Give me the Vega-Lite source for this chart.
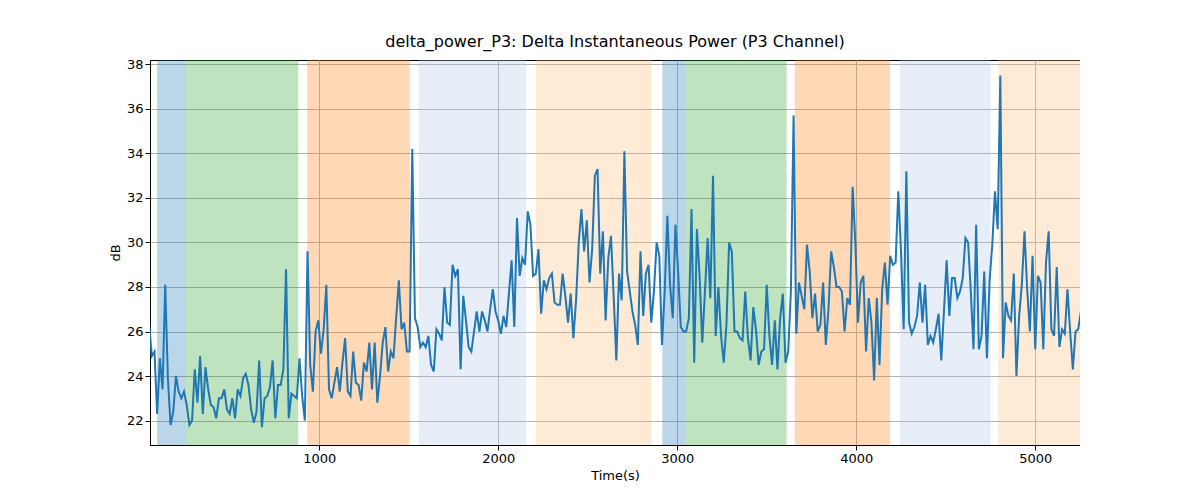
{
  "$schema": "https://vega.github.io/schema/vega-lite/v6.json",
  "width": 930,
  "height": 385,
  "padding": {"left": 109, "top": 34, "right": 0, "bottom": 0},
  "background": "white",
  "title": {"text": "delta_power_P3: Delta Instantaneous Power (P3 Channel)", "font": "DejaVu Sans", "fontSize": 16, "fontWeight": "normal", "color": "black", "offset": 8},
  "config": {
    "font": "DejaVu Sans",
    "view": {"stroke": "black", "strokeWidth": 1},
    "axis": {"labelFont": "DejaVu Sans", "titleFont": "DejaVu Sans", "labelFontSize": 13, "titleFontSize": 13, "titleFontWeight": "normal", "labelColor": "black", "titleColor": "black", "gridColor": "#b0b0b0", "gridWidth": 1, "domainColor": "black", "tickColor": "black", "tickSize": 5}
  },
  "datasets": {
    "bands": [
      {"start": 95, "end": 256, "phase": "a"},
      {"start": 256, "end": 883, "phase": "b"},
      {"start": 933, "end": 1506, "phase": "c"},
      {"start": 1556, "end": 2156, "phase": "d"},
      {"start": 2211, "end": 2856, "phase": "e"},
      {"start": 2917, "end": 3044, "phase": "a"},
      {"start": 3044, "end": 3611, "phase": "b"},
      {"start": 3656, "end": 4189, "phase": "c"},
      {"start": 4244, "end": 4750, "phase": "d"},
      {"start": 4794, "end": 5300, "phase": "e"}
    ],
    "series": [
      {"t":50,"v":26.4},{"t":65,"v":24.9},{"t":80,"v":25.1},{"t":95,"v":22.3},{"t":110,"v":24.8},{"t":125,"v":23.4},{"t":140,"v":28.1},{"t":155,"v":23.9},{"t":170,"v":21.8},{"t":185,"v":22.4},
      {"t":200,"v":24.0},{"t":215,"v":23.3},{"t":230,"v":23.0},{"t":245,"v":23.3},{"t":260,"v":22.7},{"t":275,"v":21.8},{"t":290,"v":22.0},{"t":305,"v":24.3},{"t":320,"v":22.8},{"t":335,"v":24.9},
      {"t":350,"v":22.3},{"t":365,"v":24.4},{"t":380,"v":23.4},{"t":395,"v":22.7},{"t":410,"v":22.6},{"t":425,"v":22.1},{"t":440,"v":23.0},{"t":455,"v":23.0},{"t":470,"v":23.4},{"t":485,"v":22.5},
      {"t":500,"v":22.3},{"t":515,"v":23.0},{"t":530,"v":22.1},{"t":545,"v":23.4},{"t":560,"v":23.1},{"t":575,"v":23.9},{"t":590,"v":24.1},{"t":605,"v":23.6},{"t":620,"v":22.5},{"t":635,"v":21.9},
      {"t":650,"v":22.4},{"t":665,"v":24.7},{"t":680,"v":21.7},{"t":695,"v":23.0},{"t":710,"v":23.1},{"t":725,"v":23.5},{"t":740,"v":24.7},{"t":755,"v":22.1},{"t":770,"v":23.6},{"t":785,"v":23.6},
      {"t":800,"v":24.3},{"t":815,"v":28.8},{"t":830,"v":22.1},{"t":845,"v":23.2},{"t":860,"v":23.1},{"t":875,"v":23.0},{"t":890,"v":24.8},{"t":905,"v":23.1},{"t":920,"v":22.0},{"t":935,"v":29.6},
      {"t":950,"v":24.5},{"t":965,"v":23.3},{"t":980,"v":26.0},{"t":995,"v":26.5},{"t":1010,"v":25.0},{"t":1025,"v":26.1},{"t":1040,"v":28.1},{"t":1055,"v":23.4},{"t":1070,"v":23.0},{"t":1085,"v":23.7},
      {"t":1100,"v":24.4},{"t":1115,"v":23.3},{"t":1130,"v":24.6},{"t":1145,"v":25.7},{"t":1160,"v":23.3},{"t":1175,"v":23.1},{"t":1190,"v":25.1},{"t":1205,"v":23.7},{"t":1220,"v":23.6},{"t":1235,"v":22.9},
      {"t":1250,"v":24.6},{"t":1265,"v":24.2},{"t":1280,"v":25.5},{"t":1295,"v":23.4},{"t":1310,"v":25.5},{"t":1325,"v":22.8},{"t":1340,"v":24.0},{"t":1355,"v":25.5},{"t":1370,"v":26.2},{"t":1385,"v":24.2},
      {"t":1400,"v":25.1},{"t":1415,"v":24.8},{"t":1430,"v":26.6},{"t":1445,"v":28.3},{"t":1460,"v":26.1},{"t":1475,"v":26.4},{"t":1490,"v":25.1},{"t":1505,"v":25.1},{"t":1520,"v":34.2},{"t":1535,"v":26.6},
      {"t":1550,"v":26.2},{"t":1565,"v":25.3},{"t":1580,"v":25.5},{"t":1595,"v":25.3},{"t":1610,"v":25.8},{"t":1625,"v":24.5},{"t":1640,"v":24.2},{"t":1655,"v":26.1},{"t":1670,"v":25.9},{"t":1685,"v":25.6},
      {"t":1700,"v":28.0},{"t":1715,"v":26.4},{"t":1730,"v":26.3},{"t":1745,"v":29.0},{"t":1760,"v":28.5},{"t":1775,"v":28.8},{"t":1790,"v":24.3},{"t":1805,"v":27.6},{"t":1820,"v":26.5},{"t":1835,"v":25.3},
      {"t":1850,"v":25.1},{"t":1865,"v":26.0},{"t":1880,"v":26.9},{"t":1895,"v":26.0},{"t":1910,"v":26.9},{"t":1925,"v":26.5},{"t":1940,"v":26.0},{"t":1955,"v":27.0},{"t":1970,"v":27.9},{"t":1985,"v":26.9},
      {"t":2000,"v":26.5},{"t":2015,"v":25.9},{"t":2030,"v":26.7},{"t":2045,"v":26.2},{"t":2060,"v":27.7},{"t":2075,"v":29.2},{"t":2090,"v":26.2},{"t":2105,"v":31.1},{"t":2120,"v":28.5},{"t":2135,"v":29.3},
      {"t":2150,"v":29.0},{"t":2165,"v":31.4},{"t":2180,"v":30.8},{"t":2195,"v":28.5},{"t":2210,"v":28.6},{"t":2225,"v":29.7},{"t":2240,"v":26.8},{"t":2255,"v":28.3},{"t":2270,"v":27.9},{"t":2285,"v":28.4},
      {"t":2300,"v":28.6},{"t":2315,"v":27.3},{"t":2330,"v":27.2},{"t":2345,"v":27.2},{"t":2360,"v":28.6},{"t":2375,"v":27.6},{"t":2390,"v":26.4},{"t":2405,"v":27.7},{"t":2420,"v":25.7},{"t":2435,"v":27.4},
      {"t":2450,"v":30.0},{"t":2465,"v":31.5},{"t":2480,"v":29.6},{"t":2495,"v":31.0},{"t":2510,"v":28.2},{"t":2525,"v":29.7},{"t":2540,"v":33.0},{"t":2555,"v":33.3},{"t":2570,"v":28.6},{"t":2585,"v":30.5},
      {"t":2600,"v":26.5},{"t":2615,"v":29.3},{"t":2630,"v":30.3},{"t":2645,"v":27.6},{"t":2660,"v":24.7},{"t":2675,"v":28.6},{"t":2690,"v":27.4},{"t":2705,"v":34.1},{"t":2720,"v":28.7},{"t":2735,"v":27.8},
      {"t":2750,"v":26.9},{"t":2765,"v":26.3},{"t":2780,"v":25.4},{"t":2795,"v":29.6},{"t":2810,"v":26.7},{"t":2825,"v":28.6},{"t":2840,"v":29.0},{"t":2855,"v":26.4},{"t":2870,"v":27.8},{"t":2885,"v":30.0},
      {"t":2900,"v":29.4},{"t":2915,"v":25.4},{"t":2930,"v":27.8},{"t":2945,"v":31.2},{"t":2960,"v":28.1},{"t":2975,"v":26.6},{"t":2990,"v":30.8},{"t":3005,"v":28.7},{"t":3020,"v":26.2},{"t":3035,"v":26.0},
      {"t":3050,"v":26.0},{"t":3065,"v":26.6},{"t":3080,"v":31.5},{"t":3095,"v":24.6},{"t":3110,"v":30.6},{"t":3125,"v":28.5},{"t":3140,"v":25.5},{"t":3155,"v":27.8},{"t":3170,"v":30.2},{"t":3185,"v":27.5},
      {"t":3200,"v":33.0},{"t":3215,"v":25.8},{"t":3230,"v":28.0},{"t":3245,"v":25.8},{"t":3260,"v":24.6},{"t":3275,"v":26.3},{"t":3290,"v":30.0},{"t":3305,"v":29.6},{"t":3320,"v":26.0},{"t":3335,"v":26.0},
      {"t":3350,"v":25.7},{"t":3365,"v":25.6},{"t":3380,"v":27.8},{"t":3395,"v":25.7},{"t":3410,"v":24.7},{"t":3425,"v":27.1},{"t":3440,"v":26.1},{"t":3455,"v":24.5},{"t":3470,"v":25.1},{"t":3485,"v":25.2},
      {"t":3500,"v":28.1},{"t":3515,"v":25.8},{"t":3530,"v":24.5},{"t":3545,"v":26.5},{"t":3560,"v":24.3},{"t":3575,"v":26.6},{"t":3590,"v":27.7},{"t":3605,"v":24.6},{"t":3620,"v":25.1},{"t":3635,"v":27.8},
      {"t":3650,"v":35.7},{"t":3665,"v":25.9},{"t":3680,"v":28.2},{"t":3695,"v":27.6},{"t":3710,"v":27.0},{"t":3725,"v":29.9},{"t":3740,"v":28.7},{"t":3755,"v":26.6},{"t":3770,"v":27.7},{"t":3785,"v":26.0},
      {"t":3800,"v":26.3},{"t":3815,"v":28.2},{"t":3830,"v":25.4},{"t":3845,"v":27.0},{"t":3860,"v":29.6},{"t":3875,"v":28.9},{"t":3890,"v":28.0},{"t":3905,"v":28.0},{"t":3920,"v":27.8},{"t":3935,"v":26.0},
      {"t":3950,"v":27.5},{"t":3965,"v":27.2},{"t":3980,"v":32.5},{"t":3995,"v":30.0},{"t":4010,"v":26.4},{"t":4025,"v":28.2},{"t":4040,"v":28.5},{"t":4055,"v":25.1},{"t":4070,"v":27.5},{"t":4085,"v":26.4},
      {"t":4100,"v":23.8},{"t":4115,"v":27.5},{"t":4130,"v":24.5},{"t":4145,"v":27.9},{"t":4160,"v":29.1},{"t":4175,"v":27.2},{"t":4190,"v":29.4},{"t":4205,"v":29.0},{"t":4220,"v":29.1},{"t":4235,"v":32.3},
      {"t":4250,"v":29.6},{"t":4265,"v":26.1},{"t":4280,"v":33.2},{"t":4295,"v":26.4},{"t":4310,"v":25.9},{"t":4325,"v":26.2},{"t":4340,"v":26.7},{"t":4355,"v":28.2},{"t":4370,"v":26.4},{"t":4385,"v":28.1},
      {"t":4400,"v":25.4},{"t":4415,"v":25.8},{"t":4430,"v":25.5},{"t":4445,"v":26.1},{"t":4460,"v":26.8},{"t":4475,"v":24.7},{"t":4490,"v":26.9},{"t":4505,"v":29.2},{"t":4520,"v":26.7},{"t":4535,"v":28.4},
      {"t":4550,"v":28.4},{"t":4565,"v":27.5},{"t":4580,"v":27.8},{"t":4595,"v":28.4},{"t":4610,"v":30.2},{"t":4625,"v":30.0},{"t":4640,"v":27.8},{"t":4655,"v":25.2},{"t":4670,"v":30.8},{"t":4685,"v":25.2},
      {"t":4700,"v":25.8},{"t":4715,"v":28.7},{"t":4730,"v":24.8},{"t":4745,"v":28.3},{"t":4760,"v":29.9},{"t":4775,"v":32.3},{"t":4790,"v":30.6},{"t":4805,"v":37.5},{"t":4820,"v":24.8},{"t":4835,"v":27.3},
      {"t":4850,"v":26.7},{"t":4865,"v":26.5},{"t":4880,"v":28.6},{"t":4895,"v":24.0},{"t":4910,"v":26.7},{"t":4925,"v":28.1},{"t":4940,"v":30.5},{"t":4955,"v":27.9},{"t":4970,"v":26.0},{"t":4985,"v":29.4},
      {"t":5000,"v":25.2},{"t":5015,"v":28.5},{"t":5030,"v":28.2},{"t":5045,"v":25.2},{"t":5060,"v":29.1},{"t":5075,"v":30.5},{"t":5090,"v":26.1},{"t":5105,"v":25.8},{"t":5120,"v":28.9},{"t":5135,"v":25.3},
      {"t":5150,"v":26.1},{"t":5165,"v":25.9},{"t":5180,"v":27.9},{"t":5195,"v":26.0},{"t":5210,"v":24.3},{"t":5225,"v":26.0},{"t":5240,"v":26.1},{"t":5255,"v":26.9},{"t":5270,"v":26.0}
    ]
  },
  "layer": [
    {
      "data": {"name": "bands"},
      "mark": {"type": "rect", "opacity": 0.3, "clip": true},
      "encoding": {
        "x": {"field": "start", "type": "quantitative", "scale": {"domain": [55, 5250], "nice": false, "zero": false}, "axis": {"values": [1000, 2000, 3000, 4000, 5000], "format": "d", "title": "Time(s)", "grid": true}},
        "x2": {"field": "end"},
        "color": {"field": "phase", "type": "nominal", "legend": null, "scale": {"domain": ["a", "b", "c", "d", "e"], "range": ["#1f77b4", "#2ca02c", "#ff7f0e", "#aec7e8", "#ffbb78"]}}
      }
    },
    {
      "data": {"name": "series"},
      "mark": {"type": "line", "color": "#1f77b4", "strokeWidth": 2, "clip": true},
      "encoding": {
        "x": {"field": "t", "type": "quantitative"},
        "y": {"field": "v", "type": "quantitative", "scale": {"domain": [20.9, 38.2], "nice": false, "zero": false}, "axis": {"values": [22, 24, 26, 28, 30, 32, 34, 36, 38], "title": "dB", "grid": true}}
      }
    }
  ]
}
